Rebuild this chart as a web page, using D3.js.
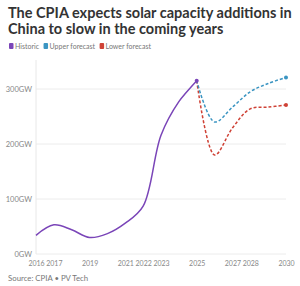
<!DOCTYPE html>
<html>
<head>
<meta charset="utf-8">
<script src="https://cdn.jsdelivr.net/npm/d3@7"></script>
<style>
  body { margin: 0; background: #fff; }
  svg { display: block; font-family: Lato, sans-serif; }
</style>
</head>
<body>
<div id="chart"></div>
<script>
  const historicYears = [2016, 2017, 2018, 2019, 2020, 2021, 2022, 2023, 2024, 2025]
  const historicValues = [34, 53, 44, 30, 37, 56, 87, 216, 277, 315]
  const forecastYears = [2025, 2026, 2027, 2028, 2029, 2030]
  const upperValues = [315, 240, 267, 295, 310, 321]
  const lowerValues = [315, 180, 229, 264, 267, 271]
  const tickYears = [2016, 2017, 2019, 2021, 2022, 2023, 2025, 2027, 2028, 2030]
  const yTicks = [0, 100, 200, 300]
  const legendLabels = ['Historic', 'Upper forecast', 'Lower forecast']
  const colors = ['#7a45b8', '#3b95c2', '#cf4236']

  const width = 300
  const height = 286
  const margin = { top: 60, right: 14, bottom: 32, left: 36 }

  const svg = d3.select('#chart')
    .append('svg')
    .attr('width', width)
    .attr('height', height)

  // title
  const titleLines = ['The CPIA expects solar capacity additions in', 'China to slow in the coming years']
  titleLines.forEach(function (t, i) {
    svg.append('text')
      .attr('x', 8).attr('y', 18 + i * 15.5)
      .style('font-size', '14.5px').style('font-weight', 700).style('fill', '#333')
      .text(t)
  })

  // legend
  let lx = 9
  legendLabels.forEach(function (label, i) {
    svg.append('rect')
      .attr('x', lx).attr('y', 43).attr('width', 4.5).attr('height', 6).attr('rx', 1)
      .style('fill', colors[i])
    const t = svg.append('text')
      .attr('x', lx + 6).attr('y', 48.5)
      .style('font-size', '7px').style('fill', '#777')
      .text(label)
    lx += 6 + t.node().getComputedTextLength() + 4.5
  })

  const x = d3.scaleLinear()
    .domain([2016, 2030])
    .range([margin.left, width - margin.right])

  const y = d3.scaleLinear()
    .domain([0, 300])
    .range([height - margin.bottom, 89])

  // grid
  svg.append('g')
    .selectAll('line')
    .data(yTicks)
    .enter()
    .append('line')
    .attr('x1', margin.left).attr('x2', width - margin.right)
    .attr('y1', function (d) { return y(d) }).attr('y2', function (d) { return y(d) })
    .style('stroke', '#ececec')

  svg.append('line')
    .attr('x1', margin.left).attr('x2', margin.left)
    .attr('y1', margin.top).attr('y2', y(0))
    .style('stroke', '#e8e8e8')

  svg.append('g')
    .selectAll('text')
    .data(yTicks)
    .enter()
    .append('text')
    .attr('x', margin.left - 4)
    .attr('y', function (d) { return y(d) + 2.5 })
    .attr('text-anchor', 'end')
    .style('font-size', '7.5px').style('fill', '#888')
    .text(function (d) { return d + 'GW' })

  const xAxis = svg.append('g')
    .attr('transform', 'translate(0,' + (y(0) + 4) + ')')
    .call(d3.axisBottom(x).tickValues(tickYears).tickFormat(d3.format('d')).tickSize(0))
  xAxis.select('.domain').remove()
  xAxis.selectAll('text')
    .style('font-size', '7px').style('fill', '#888')
    .style('font-family', 'Lato, sans-serif')

  const line = d3.line()
    .x(function (d) { return x(d[0]) })
    .y(function (d) { return y(d[1]) })
    .curve(d3.curveCatmullRom.alpha(0.5))

  const historic = d3.zip(historicYears, historicValues)
  const upper = d3.zip(forecastYears, upperValues)
  const lower = d3.zip(forecastYears, lowerValues)

  svg.append('path')
    .datum(lower)
    .attr('d', line)
    .style('fill', 'none').style('stroke', colors[2]).style('stroke-width', 1.5)
    .style('stroke-dasharray', '3,2')

  svg.append('path')
    .datum(upper)
    .attr('d', line)
    .style('fill', 'none').style('stroke', colors[1]).style('stroke-width', 1.5)
    .style('stroke-dasharray', '3,2')

  svg.append('path')
    .datum(historic)
    .attr('d', line)
    .style('fill', 'none').style('stroke', colors[0]).style('stroke-width', 1.5)

  const ends = [
    { p: historic[historic.length - 1], c: colors[0] },
    { p: upper[upper.length - 1], c: colors[1] },
    { p: lower[lower.length - 1], c: colors[2] }
  ]
  svg.selectAll('circle.end')
    .data(ends)
    .enter()
    .append('circle')
    .attr('class', 'end')
    .attr('cx', function (d) { return x(d.p[0]) })
    .attr('cy', function (d) { return y(d.p[1]) })
    .attr('r', 2)
    .style('fill', function (d) { return d.c })

  svg.append('text')
    .attr('x', 8).attr('y', 281)
    .style('font-size', '7.8px').style('fill', '#777')
    .text('Source: CPIA • PV Tech')
</script>
</body>
</html>
